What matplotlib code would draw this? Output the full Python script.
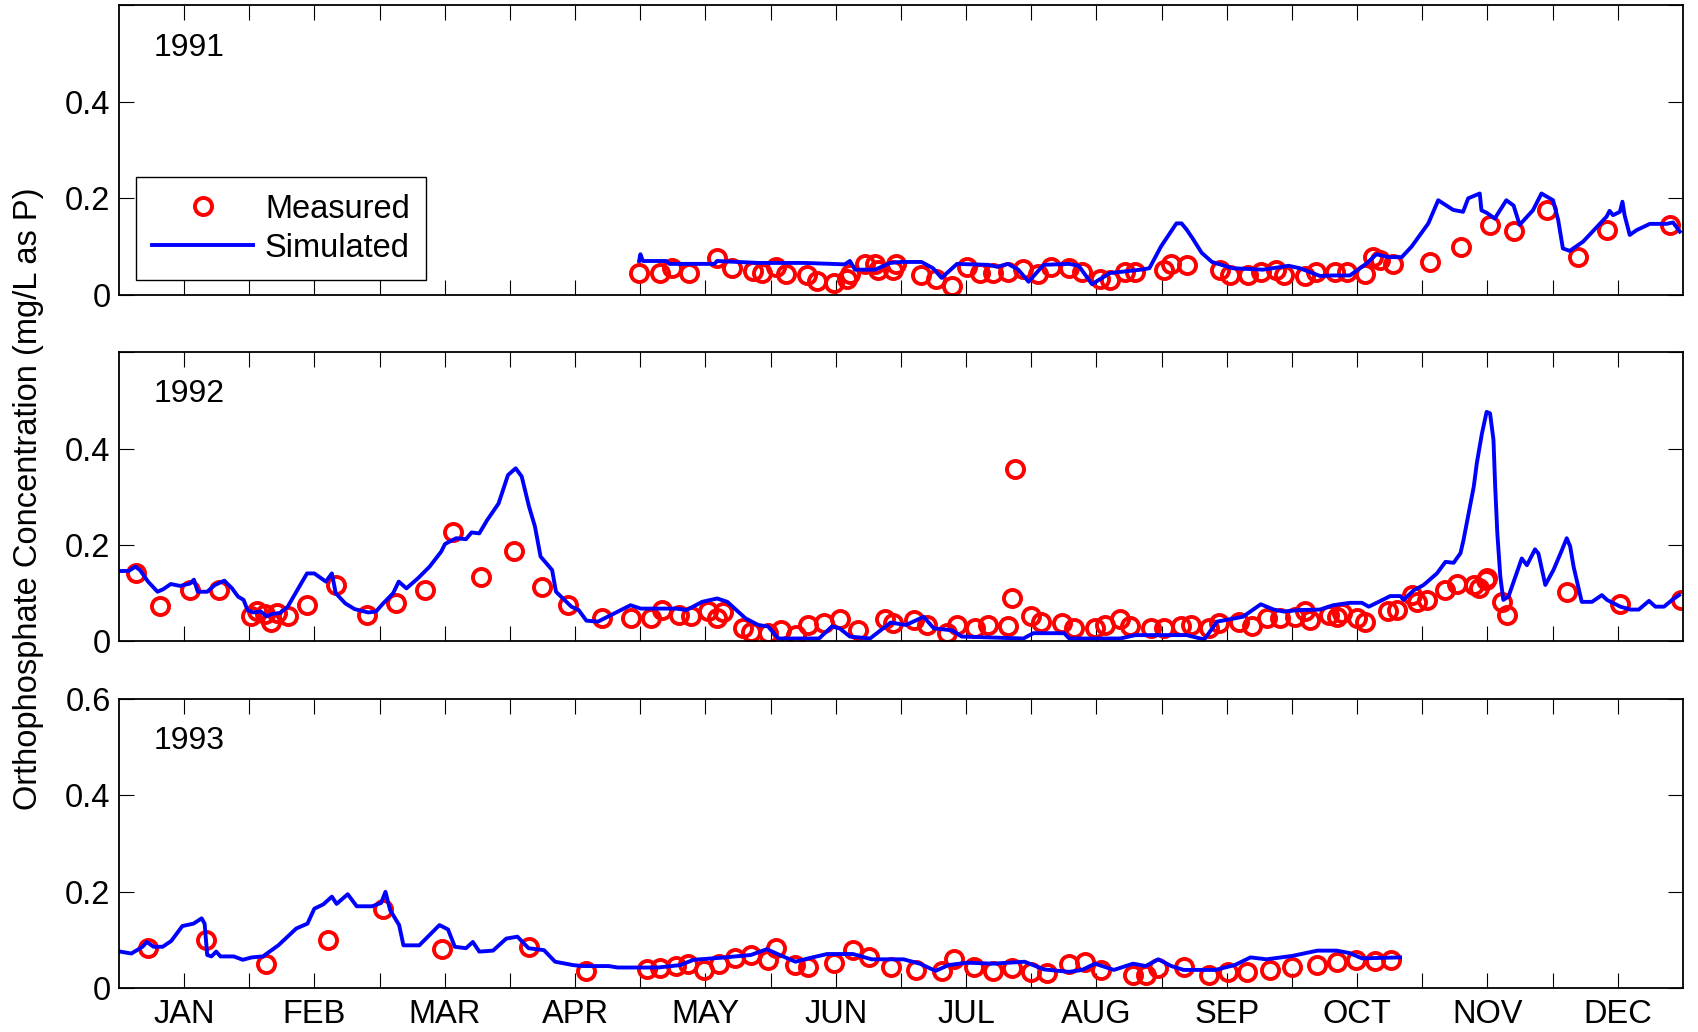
import numpy as np
import matplotlib
matplotlib.use('Agg')
from matplotlib import pyplot as plt

plt.rcParams['font.family'] = ['Liberation Sans', 'DejaVu Sans']

months = ['JAN', 'FEB', 'MAR', 'APR', 'MAY', 'JUN',
          'JUL', 'AUG', 'SEP', 'OCT', 'NOV', 'DEC']
years = ['1991', '1992', '1993']

# 1991 -- day of year / mg/L
sim91_day = [121.4, 121.7, 122.3, 127.7, 128.5, 139.0, 139.6, 149.2, 160.0, 169.4,
             170.6, 171.8, 176.5, 180.0, 182.5, 187.3, 190.0, 192.0, 195.6, 202.8,
             205.0, 207.5, 209.9, 212.3, 215.8, 221.8, 224.0, 227.1, 231.3, 238.5,
             240.5, 243.2, 246.8, 248.0, 249.2, 250.5, 252.7, 255.1, 259.9, 267.0,
             273.0, 275.6, 280.3, 283.4, 287.3, 291.2, 293.5, 296.2, 299.4, 301.7,
             305.6, 307.9, 311.4, 313.7, 314.9, 317.6, 318.0, 319.2, 321.1, 323.8,
             325.5, 326.9, 330.0, 332.0, 334.7, 335.9, 337.0, 338.6, 341.7, 347.2,
             347.9, 348.7, 350.3, 350.9, 351.4, 352.6, 354.2, 357.3, 361.2, 362.7,
             364.3]
sim91_val = [0.070, 0.084, 0.070, 0.070, 0.064, 0.064, 0.070, 0.066, 0.066, 0.063,
             0.070, 0.052, 0.052, 0.066, 0.068, 0.068, 0.055, 0.035, 0.064, 0.062,
             0.058, 0.064, 0.052, 0.027, 0.062, 0.064, 0.060, 0.022, 0.045, 0.052,
             0.055, 0.100, 0.148, 0.148, 0.135, 0.118, 0.087, 0.068, 0.055, 0.052,
             0.060, 0.055, 0.039, 0.040, 0.040, 0.065, 0.084, 0.078, 0.078, 0.100,
             0.148, 0.196, 0.176, 0.172, 0.200, 0.210, 0.175, 0.170, 0.158, 0.196,
             0.185, 0.145, 0.175, 0.210, 0.196, 0.155, 0.096, 0.091, 0.110, 0.162,
             0.174, 0.165, 0.172, 0.193, 0.165, 0.124, 0.134, 0.147, 0.147, 0.150,
             0.131]
obs91_day = [121.4, 126.3, 129.1, 133.1, 139.6, 143.0, 148.0, 150.1, 153.4, 155.7,
             160.5, 162.9, 167.0, 170.0, 170.6, 174.2, 176.5, 177.1, 180.7, 181.3,
             187.3, 190.8, 194.4, 198.0, 200.9, 203.9, 207.5, 211.1, 214.6, 217.6,
             221.8, 224.8, 228.9, 231.3, 234.9, 237.2, 243.8, 245.6, 249.2, 256.9,
             259.3, 263.5, 266.5, 270.0, 271.8, 276.8, 279.4, 283.8, 286.5, 290.8,
             292.7, 294.3, 297.4, 305.9, 313.2, 319.9, 325.7, 333.2, 340.6, 347.3,
             361.9]
obs91_val = [0.046, 0.046, 0.055, 0.045, 0.077, 0.055, 0.050, 0.045, 0.057, 0.043,
             0.040, 0.029, 0.025, 0.032, 0.043, 0.063, 0.063, 0.052, 0.052, 0.063,
             0.040, 0.033, 0.018, 0.057, 0.045, 0.045, 0.048, 0.053, 0.043, 0.057,
             0.055, 0.048, 0.033, 0.030, 0.048, 0.048, 0.052, 0.063, 0.061, 0.052,
             0.040, 0.040, 0.048, 0.052, 0.040, 0.039, 0.048, 0.048, 0.048, 0.044,
             0.079, 0.072, 0.064, 0.068, 0.100, 0.145, 0.133, 0.176, 0.078, 0.134,
             0.145]

# 1992
sim92_day = [0.0, 2.3, 3.8, 4.9, 6.8, 9.0, 10.3, 12.1, 14.3, 16.6, 17.5, 18.4, 20.6,
             22.4, 24.6, 26.4, 27.8, 29.1, 30.0, 31.3, 33.1, 34.5, 35.8, 37.6, 39.4,
             41.6, 43.9, 45.6, 48.3, 49.7, 50.6, 52.8, 55.0, 58.2, 60.0, 61.7, 64.0,
             65.3, 67.1, 69.8, 72.5, 75.2, 76.1, 78.7, 81.0, 82.3, 84.1, 85.9, 88.6,
             90.8, 92.6, 94.0, 95.7, 97.1, 98.4, 101.1, 102.0, 105.6, 107.3, 109.1,
             111.8, 114.5, 119.4, 121.8, 130.1, 132.5, 136.1, 139.6, 142.0, 146.2,
             149.2, 151.5, 153.9, 163.4, 166.4, 168.2, 170.6, 175.3, 180.1, 183.7,
             187.8, 190.2, 194.4, 196.7, 211.1, 213.4, 220.6, 221.8, 233.7, 237.2,
             249.2, 253.3, 256.3, 262.3, 266.5, 269.5, 271.8, 275.6, 280.3, 283.4,
             287.3, 290.1, 291.7, 294.0, 296.7, 299.1, 299.8, 302.2, 304.5, 307.6,
             309.6, 311.5, 313.1, 313.8, 315.0, 316.2, 316.9, 318.1, 319.2, 320.0,
             320.8, 321.2, 321.7, 322.4, 323.1, 324.3, 325.9, 327.4, 328.6, 330.5,
             331.3, 332.9, 334.8, 336.8, 337.9, 338.7, 339.5, 341.4, 343.8, 346.1,
             347.3, 350.4, 352.8, 354.7, 357.1, 358.6, 360.6, 362.5, 364.1]
sim92_val = [0.146, 0.146, 0.155, 0.148, 0.124, 0.103, 0.108, 0.119, 0.115, 0.120,
             0.128, 0.103, 0.103, 0.117, 0.126, 0.110, 0.093, 0.086, 0.065, 0.060,
             0.062, 0.052, 0.057, 0.059, 0.072, 0.106, 0.141, 0.141, 0.124, 0.141,
             0.100, 0.079, 0.067, 0.060, 0.062, 0.079, 0.100, 0.124, 0.110, 0.131,
             0.155, 0.186, 0.202, 0.214, 0.212, 0.226, 0.224, 0.251, 0.286, 0.345,
             0.359, 0.342, 0.280, 0.238, 0.176, 0.148, 0.103, 0.072, 0.065, 0.043,
             0.041, 0.053, 0.075, 0.068, 0.068, 0.065, 0.082, 0.089, 0.082, 0.048,
             0.034, 0.031, 0.006, 0.006, 0.031, 0.027, 0.010, 0.006, 0.039, 0.034,
             0.051, 0.027, 0.023, 0.010, 0.006, 0.017, 0.017, 0.006, 0.006, 0.013,
             0.013, 0.004, 0.041, 0.051, 0.077, 0.066, 0.062, 0.065, 0.066, 0.075,
             0.080, 0.080, 0.072, 0.082, 0.094, 0.094, 0.086, 0.106, 0.117, 0.141,
             0.165, 0.163, 0.183, 0.210, 0.266, 0.321, 0.369, 0.431, 0.476, 0.473,
             0.418, 0.321, 0.224, 0.134, 0.086, 0.093, 0.134, 0.172, 0.158, 0.191,
             0.182, 0.117, 0.148, 0.190, 0.214, 0.197, 0.155, 0.082, 0.082, 0.096,
             0.086, 0.072, 0.066, 0.066, 0.084, 0.072, 0.072, 0.086, 0.096]
obs92_day = [4.1, 9.7, 16.6, 23.3, 30.9, 32.2, 34.0, 35.4, 36.9, 39.4, 43.9, 50.6,
             57.9, 64.6, 71.4, 78.0, 84.4, 92.1, 98.8, 104.7, 112.8, 119.4, 124.1,
             126.8, 130.7, 133.5, 137.5, 139.5, 140.9, 145.6, 147.4, 151.5, 154.5,
             158.1, 160.8, 164.6, 168.2, 172.4, 178.9, 180.7, 185.5, 188.5, 193.2,
             195.6, 199.8, 202.8, 207.5, 208.5, 209.2, 212.9, 215.2, 220.0, 222.9,
             227.7, 230.1, 233.6, 236.0, 240.8, 243.8, 247.9, 250.2, 254.4, 256.8,
             261.5, 264.5, 268.0, 271.0, 274.5, 276.8, 278.0, 282.3, 284.2, 285.4,
             288.9, 290.8, 296.3, 298.3, 301.8, 302.9, 305.3, 309.6, 312.3, 316.2,
             317.4, 319.0, 319.4, 322.9, 323.9, 338.0, 350.4, 364.5]
obs92_val = [0.141, 0.073, 0.106, 0.106, 0.052, 0.062, 0.057, 0.041, 0.059, 0.052,
             0.076, 0.117, 0.055, 0.079, 0.106, 0.226, 0.133, 0.188, 0.112, 0.076,
             0.048, 0.048, 0.048, 0.066, 0.055, 0.052, 0.062, 0.048, 0.060, 0.027,
             0.020, 0.017, 0.023, 0.013, 0.034, 0.039, 0.046, 0.023, 0.046, 0.039,
             0.044, 0.034, 0.017, 0.034, 0.027, 0.034, 0.031, 0.089, 0.358, 0.053,
             0.041, 0.039, 0.027, 0.027, 0.034, 0.046, 0.031, 0.027, 0.027, 0.031,
             0.034, 0.027, 0.039, 0.041, 0.031, 0.048, 0.048, 0.051, 0.062, 0.044,
             0.055, 0.051, 0.058, 0.048, 0.041, 0.062, 0.066, 0.096, 0.082, 0.086,
             0.107, 0.120, 0.117, 0.110, 0.127, 0.131, 0.082, 0.055, 0.103, 0.077,
             0.086]

# 1993
sim93_day = [0.3, 2.9, 5.5, 6.5, 8.1, 10.2, 12.2, 14.8, 17.4, 19.3, 20.0, 20.6, 21.6,
             22.7, 23.7, 26.8, 28.9, 31.0, 33.6, 37.2, 41.4, 44.0, 45.6, 47.7, 49.7,
             50.8, 53.4, 55.5, 59.1, 61.2, 62.2, 63.3, 65.4, 66.4, 70.1, 74.8, 76.8,
             78.4, 81.0, 82.6, 84.1, 87.3, 90.4, 93.0, 95.6, 99.2, 101.8, 106.0, 108.1,
             114.3, 116.4, 125.8, 131.0, 134.1, 141.5, 147.5, 151.2, 154.2, 157.9,
             160.9, 165.3, 171.3, 175.7, 183.1, 186.9, 190.6, 193.6, 198.0, 204.0,
             211.4, 215.9, 221.8, 224.8, 227.8, 232.2, 236.7, 239.6, 242.6, 245.6,
             248.5, 255.9, 260.4, 264.1, 267.8, 273.8, 279.7, 284.2, 287.2, 290.1,
             299.0]
sim93_val = [0.076, 0.072, 0.086, 0.096, 0.086, 0.086, 0.098, 0.129, 0.134, 0.145,
             0.134, 0.069, 0.066, 0.076, 0.066, 0.066, 0.059, 0.064, 0.066, 0.089,
             0.124, 0.134, 0.165, 0.174, 0.190, 0.175, 0.195, 0.170, 0.170, 0.177,
             0.200, 0.162, 0.131, 0.089, 0.089, 0.131, 0.122, 0.086, 0.083, 0.096,
             0.076, 0.078, 0.103, 0.107, 0.083, 0.079, 0.055, 0.048, 0.046, 0.046,
             0.043, 0.043, 0.048, 0.059, 0.064, 0.069, 0.081, 0.069, 0.055, 0.062,
             0.071, 0.071, 0.060, 0.060, 0.051, 0.036, 0.048, 0.053, 0.051, 0.055,
             0.039, 0.034, 0.038, 0.051, 0.038, 0.051, 0.046, 0.060, 0.046, 0.038,
             0.038, 0.048, 0.064, 0.060, 0.067, 0.078, 0.078, 0.073, 0.062, 0.064]
obs93_day = [6.8, 20.4, 34.3, 48.7, 61.7, 75.3, 95.8, 109.1, 123.2, 126.3, 130.0,
             132.9, 136.5, 140.0, 143.7, 147.5, 151.4, 153.4, 157.9, 160.9, 166.8,
             171.3, 175.0, 180.2, 186.1, 192.0, 195.0, 199.5, 204.0, 208.4, 212.9,
             216.6, 221.8, 225.5, 229.2, 236.7, 239.6, 242.6, 248.5, 254.5, 258.9,
             263.3, 268.6, 273.8, 279.7, 284.2, 288.6, 293.1, 296.8]
obs93_val = [0.083, 0.101, 0.050, 0.101, 0.164, 0.081, 0.085, 0.036, 0.039, 0.041,
             0.046, 0.050, 0.038, 0.051, 0.062, 0.069, 0.058, 0.083, 0.048, 0.044,
             0.053, 0.079, 0.065, 0.044, 0.038, 0.036, 0.060, 0.044, 0.036, 0.041,
             0.034, 0.032, 0.051, 0.055, 0.038, 0.027, 0.027, 0.041, 0.044, 0.027,
             0.034, 0.034, 0.038, 0.044, 0.048, 0.055, 0.058, 0.057, 0.058]

sims = [(sim91_day, sim91_val), (sim92_day, sim92_val), (sim93_day, sim93_val)]
obss = [(obs91_day, obs91_val), (obs92_day, obs92_val), (obs93_day, obs93_val)]

fig = plt.figure(figsize=(16.99, 10.32), dpi=100)
bottoms = [0.7144, 0.3785, 0.0424]
half_month = 365.0 / 24
xt = np.arange(1, 24) * half_month
xlabels = [months[i // 2] if i % 2 == 0 else '' for i in range(23)]
fs = 23.5

for i, yr in enumerate(years):
    ax = fig.add_axes([0.070, bottoms[i], 0.9205, 0.2803])
    d, v = obss[i]
    ax.plot(d, v, ls='none', marker='o', ms=12.3, mfc='none', mec='#ff0000',
            mew=2.8, label='Measured')
    d, v = sims[i]
    ax.plot(d, v, color='#0000ff', lw=2.8, label='Simulated')

    ax.set_xlim(0, 365)
    ax.set_ylim(0, 0.6)
    ax.set_xticks(xt)
    ax.set_yticks([0, 0.2, 0.4, 0.6])
    if i == 2:
        ax.set_xticklabels(xlabels)
        ax.set_yticklabels(['0', '0.2', '0.4', '0.6'])
    else:
        ax.set_xticklabels([])
        ax.set_yticklabels(['0', '0.2', '0.4', ''])
    ax.tick_params(direction='in', top=True, right=True, length=11, width=0.8,
                   labelsize=fs)
    ax.tick_params(axis='y', pad=6)
    ax.tick_params(axis='x', pad=8)
    for sp in ax.spines.values():
        sp.set_linewidth(1.3)
    ax.text(0.0224, 0.826, yr, transform=ax.transAxes, fontsize=23,
            ha='left', va='baseline')

    if i == 0:
        leg = ax.legend(loc='lower left', bbox_to_anchor=(0.0109, 0.0508),
                        borderaxespad=0, fontsize=fs, numpoints=1,
                        handlelength=3.1, handletextpad=0.35, labelspacing=0.25,
                        borderpad=0.5, fancybox=False, framealpha=1)
        leg.get_frame().set_edgecolor('black')
        leg.get_frame().set_linewidth(1.0)

fig.text(0.017, 0.517, 'Orthophosphate Concentration (mg/L as P)', rotation=90,
         ha='center', va='center', fontsize=fs)

fig.savefig('out.png', dpi=100)
